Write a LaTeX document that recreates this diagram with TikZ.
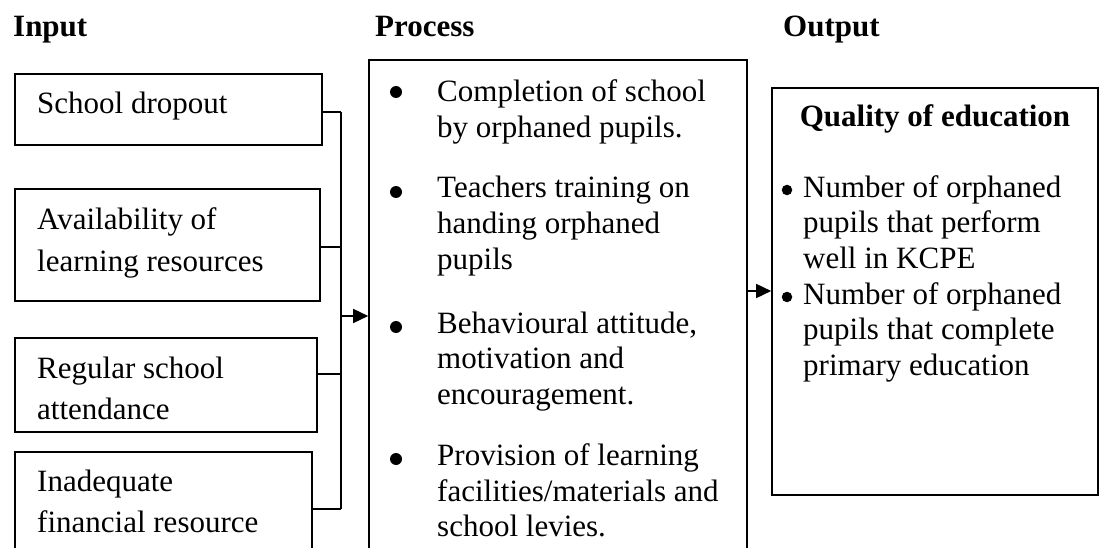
\documentclass[tikz,border=0pt]{standalone}
\usepackage{fontspec}
\setmainfont{Liberation Serif}
\usetikzlibrary{arrows.meta}
\begin{document}
\begin{tikzpicture}[x=1pt,y=-1pt,
  box/.style={draw, line width=1.6pt, inner sep=0pt},
  txt/.style={inner sep=0pt, anchor=base west, align=left, font=\fontsize{31}{35.5}\selectfont},
  ltxt/.style={txt, font=\fontsize{31}{41.5}\selectfont},
  head/.style={inner sep=0pt, anchor=base west, font=\fontsize{31}{35}\selectfont\bfseries},
  bul/.style={circle, fill, inner sep=0pt, minimum size=12pt},
  obul/.style={bul, minimum size=10.5pt},
  conn/.style={line width=1.6pt},
  arr/.style={line width=1.6pt, -{Triangle[length=15pt,width=14pt]}}
]
\useasboundingbox (0,0) rectangle (1100,548);
\clip (0,0) rectangle (1100,548);

% headers
\node[head] (hin) at (13,37) {Input};
\node[head] (hpr) at (375,37) {Process};
\node[head] (hout) at (783,37) {Output};

% input boxes
\node[box, minimum width=307pt, minimum height=71pt] (b1) at (168.5,109.5) {};
\node[box, minimum width=305pt, minimum height=112pt] (b2) at (167.5,245) {};
\node[box, minimum width=302pt, minimum height=94pt] (b3) at (166,385) {};
\node[box, minimum width=297pt, minimum height=118pt] (b4) at (163.5,511) {};

% multi-line texts are placed by the baseline of their last line
\node[ltxt] (t1) at (37,114) {School dropout};
\node[ltxt] (t2) at (37,271) {Availability of\\learning resources};
\node[ltxt] (t3) at (37,419.5) {Regular school\\attendance};
\node[ltxt] (t4) at (37,532.5) {Inadequate\\financial resource};

% process box
\node[box, minimum width=378pt, minimum height=510pt] (proc) at (558,315) {};
\node[bul] (pb1) at (396,92) {};
\node[txt] (p1) at (437,137.5) {Completion of school\\by orphaned pupils.};
\node[bul] (pb2) at (396,192) {};
\node[txt] (p2) at (437,269) {Teachers training on\\handing orphaned\\pupils};
\node[bul] (pb3) at (396,327) {};
\node[txt] (p3) at (437,404) {Behavioural attitude,\\motivation and\\encouragement.};
\node[bul] (pb4) at (396,459) {};
\node[txt] (p4) at (437,536.5) {Provision of learning\\facilities/materials and\\school levies.};

% output box
\node[box, minimum width=326pt, minimum height=407pt] (out) at (935,291.5) {};
\node[head, anchor=base] (oq) at (935,127) {Quality of education};
\node[obul] (ob1) at (787,190) {};
\node[txt] (o1) at (803,268) {Number of orphaned\\pupils that perform\\well in KCPE};
\node[obul] (ob2) at (787,297) {};
\node[txt] (o2) at (803,375) {Number of orphaned\\pupils that complete\\primary education};

% connectors
\coordinate (j1) at (341,112);
\coordinate (j2) at (341,247);
\coordinate (j3) at (341,374);
\coordinate (j4) at (341,509);
\coordinate (ja) at (341,316);
\coordinate (jb) at (747,291);
\draw[conn] (b1.east |- j1) -- (j1);
\draw[conn] (b2.east |- j2) -- (j2);
\draw[conn] (b3.east |- j3) -- (j3);
\draw[conn] (b4.east |- j4) -- (j4);
\draw[conn] (j1) -- (j4);
\draw[arr] (ja) -- (proc.west |- ja);
\draw[arr] (proc.east |- jb) -- (out.west |- jb);
\end{tikzpicture}
\end{document}
